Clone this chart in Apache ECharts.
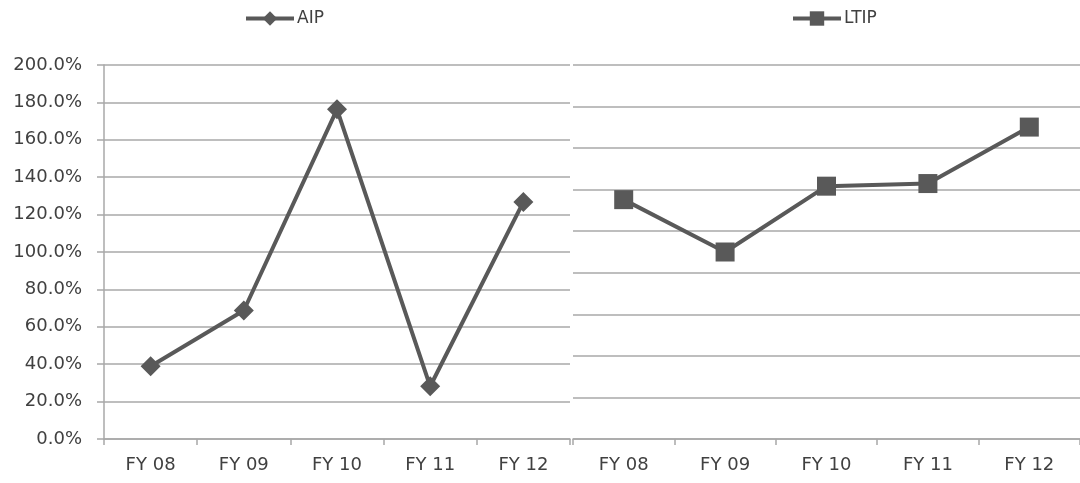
<!DOCTYPE html>
<html>
<head>
<meta charset="utf-8">
<script src="https://cdn.jsdelivr.net/npm/echarts@6/dist/echarts.min.js"></script>
<style>
html,body{margin:0;padding:0;background:#fff;}
#c{width:1080px;height:483px;}
</style>
</head>
<body>
<div id="c"></div>
<script>
const categories = ['FY 08', 'FY 09', 'FY 10', 'FY 11', 'FY 12'];
const aipValues = [38.9, 68.7, 176.3, 28.2, 126.8];
const ltipValues = [128.0, 100.0, 135.2, 136.6, 166.8];
const yTicksLeft = { min: 0, max: 200, step: 20 };
const yTicksRight = { min: 0, max: 200, step: 200 / 9 };

const FONT = 'DejaVu Sans';
const TXT = '#404040';
const LINE = '#595959';
const GRID = '#a8a8a8';

const chart = echarts.init(document.getElementById('c'), null, { renderer: 'canvas' });

function xAxis(gridIndex) {
  return {
    type: 'category', gridIndex: gridIndex, data: categories, boundaryGap: true,
    axisLine: { show: true, lineStyle: { color: GRID, width: 1.5 } },
    axisTick: { show: true, alignWithLabel: false, length: 6, lineStyle: { color: GRID, width: 1.5 } },
    axisLabel: { color: TXT, fontFamily: FONT, fontSize: 18, margin: 17 }
  };
}

const legendText = { color: TXT, fontFamily: FONT, fontSize: 17, padding: [0,0,0,-2] };

chart.setOption({
  animation: false,
  backgroundColor: '#fff',
  legend: [
    { data: ['AIP'], left: 239, top: 5, itemWidth: 48, itemHeight: 18, itemGap: 4,
      lineStyle: { width: 4 }, textStyle: legendText },
    { data: ['LTIP'], left: 786, top: 5, itemWidth: 48, itemHeight: 18, itemGap: 4,
      lineStyle: { width: 4 }, textStyle: legendText }
  ],
  grid: [
    { left: 104, width: 466, top: 65, bottom: 44 },
    { left: 573, width: 516, top: 65, bottom: 44 }
  ],
  xAxis: [xAxis(0), xAxis(1)],
  yAxis: [
    {
      type: 'value', gridIndex: 0, min: yTicksLeft.min, max: yTicksLeft.max, interval: yTicksLeft.step,
      axisLine: { show: true, lineStyle: { color: GRID, width: 1.5 } },
      axisTick: { show: true, length: 7, lineStyle: { color: GRID, width: 1.5 } },
      splitLine: { show: true, lineStyle: { color: GRID, width: 1.5 } },
      axisLabel: { color: TXT, fontFamily: FONT, fontSize: 18, margin: 22,
        formatter: v => v.toFixed(1) + '%' }
    },
    {
      type: 'value', gridIndex: 1, min: yTicksRight.min, max: yTicksRight.max, interval: yTicksRight.step,
      axisLine: { show: false },
      axisTick: { show: false },
      splitLine: { show: true, lineStyle: { color: GRID, width: 1.5 } },
      axisLabel: { show: false }
    }
  ],
  series: [
    { name: 'AIP', type: 'line', xAxisIndex: 0, yAxisIndex: 0, data: aipValues,
      symbol: 'diamond', symbolSize: 20, showAllSymbol: true,
      lineStyle: { color: LINE, width: 4 }, itemStyle: { color: LINE } },
    { name: 'LTIP', type: 'line', xAxisIndex: 1, yAxisIndex: 1, data: ltipValues,
      symbol: 'rect', symbolSize: 19, showAllSymbol: true,
      lineStyle: { color: LINE, width: 4 }, itemStyle: { color: LINE } }
  ]
});
</script>
</body>
</html>
